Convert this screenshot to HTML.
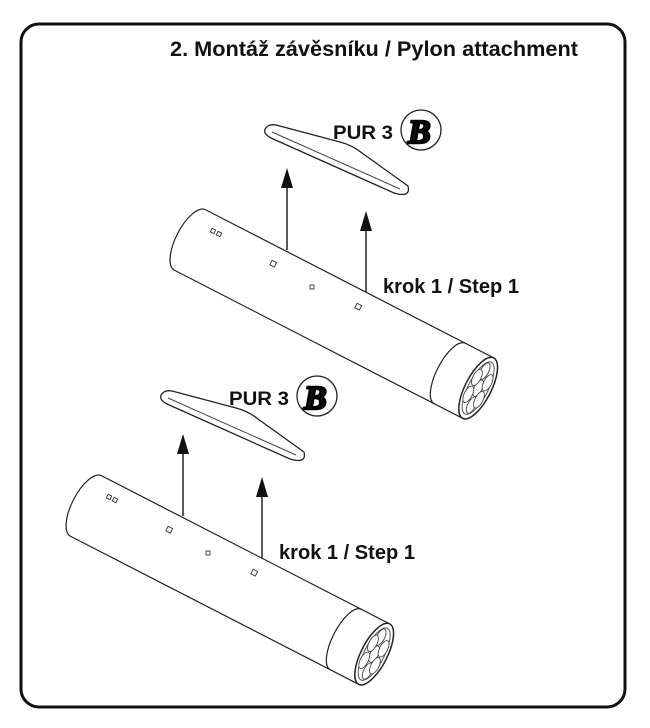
<!DOCTYPE html>
<html><head><meta charset="utf-8"><style>
html,body{margin:0;padding:0;background:#fff;}
svg{display:block;}
text{font-family:"Liberation Sans",sans-serif;font-weight:bold;fill:#111;}
</style></head><body>
<svg width="650" height="728" viewBox="0 0 650 728" xmlns="http://www.w3.org/2000/svg">
<rect x="21" y="24" width="604" height="683" rx="18" ry="18" fill="#fff" stroke="#111" stroke-width="3"/>
<text x="170" y="56" font-size="21" textLength="408" lengthAdjust="spacingAndGlyphs">2. Montáž závěsníku / Pylon attachment</text>
<defs>
<g id="unit">
  <path d="M268,126 Q260,132 271,138 L394,193 Q411,198 408,186 L362,153 Q352,145 340,142 L276,125 Q271,124 268,126 Z" fill="#fff" stroke="#222" stroke-width="1.3"/>
  <path d="M272,132 L400,189" fill="none" stroke="#444" stroke-width="1"/>
  <text x="333" y="139" font-size="19" textLength="60" lengthAdjust="spacingAndGlyphs">PUR 3</text>
  <circle cx="421" cy="130" r="20" fill="#fff" stroke="#222" stroke-width="1.3"/>
  <text x="408" y="143" font-size="34" font-style="italic" stroke="#000" stroke-width="2.5" style="font-family:'Liberation Serif',serif">B</text>
  <line x1="287" y1="250" x2="287" y2="185" stroke="#222" stroke-width="1.5"/>
  <polygon points="287,168 281,188 293,188" fill="#111"/>
  <line x1="366" y1="312" x2="366" y2="228" stroke="#222" stroke-width="1.5"/>
  <polygon points="366,211 360,231 372,231" fill="#111"/>
  <text x="383" y="293" font-size="20" textLength="136" lengthAdjust="spacingAndGlyphs">krok 1 / Step 1</text>
  <g transform="translate(190,240) rotate(27.2)">
    <path d="M0,-34 A14,34 0 0 0 0,34 L324,34 L324,-34 Z" fill="#fff" stroke="#222" stroke-width="1.2"/>
    <path d="M292,-34 A13,34 0 0 0 292,34" fill="none" stroke="#222" stroke-width="1.2"/>
    <ellipse cx="324" cy="0" rx="13" ry="34" fill="#fff" stroke="#222" stroke-width="1.5"/>
    <ellipse cx="324" cy="0" rx="10" ry="29" fill="none" stroke="#555" stroke-width="1"/>
    <g fill="#fff" stroke="#444" stroke-width="0.9">
      <ellipse cx="324" cy="0" rx="4" ry="9"/>
      <ellipse cx="322" cy="-18" rx="4" ry="9"/>
      <ellipse cx="326" cy="18" rx="4" ry="9"/>
      <ellipse cx="318" cy="-9" rx="4" ry="9"/>
      <ellipse cx="318" cy="10" rx="4" ry="9"/>
      <ellipse cx="330" cy="-9" rx="4" ry="9"/>
      <ellipse cx="330" cy="10" rx="4" ry="9"/>
    </g>
  </g>
  <g fill="none" stroke="#444" stroke-width="1">
    <rect x="211" y="229" width="4" height="4" transform="rotate(27 213 231)"/>
    <rect x="217" y="232" width="4" height="4" transform="rotate(27 219 234)"/>
    <rect x="271" y="261" width="5" height="5" transform="rotate(27 273 263)"/>
    <rect x="310" y="285" width="4" height="4"/>
    <rect x="356" y="304" width="5" height="5" transform="rotate(27 358 306)"/>
  </g>
</g>
</defs>
<use href="#unit"/>
<use href="#unit" transform="translate(-104,266)"/>
</svg>
</body></html>
